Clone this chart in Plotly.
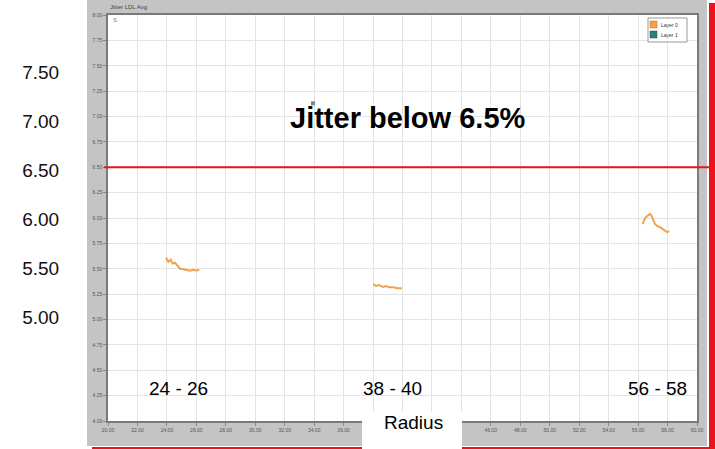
import plotly.graph_objects as go

# ---------------- data ----------------
seg1_x = [23.94, 24.10, 24.26, 24.39, 24.55, 24.71, 24.89, 25.11, 25.34, 25.57, 25.79, 26.02, 26.20]
seg1_y = [5.61, 5.57, 5.59, 5.55, 5.56, 5.53, 5.50, 5.495, 5.49, 5.48, 5.49, 5.48, 5.495]
seg2_x = [38.02, 38.20, 38.42, 38.66, 38.88, 39.10, 39.38, 39.65, 39.95]
seg2_y = [5.35, 5.33, 5.34, 5.32, 5.33, 5.317, 5.317, 5.307, 5.307]
seg3_x = [56.31, 56.47, 56.62, 56.81, 56.92, 57.03, 57.15, 57.30, 57.49, 57.67, 57.83, 57.98, 58.12]
seg3_y = [5.94, 6.00, 6.02, 6.04, 6.02, 5.98, 5.94, 5.92, 5.91, 5.89, 5.875, 5.86, 5.87]
layer1_x = [33.92]
layer1_y = [7.13]

series_names = ["Layer 0", "Layer 1"]
series_colors = ["#f2a24a", "#2f7d74"]
threshold = 6.5
threshold_label = "Jitter below 6.5%"
range_labels = ["24 - 26", "38 - 40", "56 - 58"]
outer_ticks = [5.0, 5.5, 6.0, 6.5, 7.0, 7.5]
outer_ticktext = ["5.00", "5.50", "6.00", "6.50", "7.00", "7.50"]
x_ticks = [20 + 2 * i for i in range(21)]
x_title = "Radius"
chart_title = "Jitter LDL Avg"

# ---------------- figure ----------------
W, H = 715, 449
L, R, T, B = 108, 18, 15, 28
PW, PH = W - L - R, H - T - B

def px(xp):
    return (xp - L) / PW

def py(yp):
    return (H - B - yp) / PH

layer0_x = seg1_x + [None] + seg2_x + [None] + seg3_x
layer0_y = seg1_y + [None] + seg2_y + [None] + seg3_y

fig = go.Figure()
fig.add_trace(go.Scatter(x=layer0_x, y=layer0_y, mode="lines", name=series_names[0],
                         line=dict(color=series_colors[0], width=2), connectgaps=False,
                         showlegend=False))
fig.add_trace(go.Scatter(x=layer1_x, y=layer1_y, mode="markers", name=series_names[1],
                         marker=dict(color="#6f8f8b", size=4, symbol="square"),
                         showlegend=False))
# invisible trace carrying the outer (overlay) y axis
fig.add_trace(go.Scatter(x=[None], y=[None], yaxis="y2", showlegend=False, hoverinfo="skip"))

# x tick labels hidden where the "Radius" box covers them
hidden = {38, 40, 42, 44}
x_ticktext = ["" if v in hidden else f"{v:.2f}" for v in x_ticks]

tickfont = dict(family="Arial, Liberation Sans", size=5, color="#555")
fig.update_layout(
    width=W, height=H, autosize=False,
    margin=dict(l=L, r=R, t=T, b=B, pad=0),
    paper_bgcolor="white", plot_bgcolor="white",
    font=dict(family="Arial, Liberation Sans", color="#000"),
    xaxis=dict(range=[20, 60], tickvals=x_ticks, ticktext=x_ticktext, tickfont=tickfont,
               showgrid=True, gridcolor="#e4e4e4", gridwidth=1, zeroline=False,
               showline=True, linecolor="#7a7a7a", linewidth=1.5, mirror=True,
               ticks="outside", ticklen=3, tickcolor="#888"),
    yaxis=dict(range=[4, 8], dtick=0.25, tickformat=".2f", tickfont=tickfont,
               showgrid=True, gridcolor="#e4e4e4", gridwidth=1, zeroline=False,
               showline=True, linecolor="#7a7a7a", linewidth=1.5, mirror=True,
               ticks="outside", ticklen=3, tickcolor="#888"),
    yaxis2=dict(overlaying="y", anchor="free", position=0, side="left",
                range=[3.939, 8.082], tickvals=outer_ticks, ticktext=outer_ticktext,
                tickfont=dict(family="Arial, Liberation Sans", size=19, color="#111"),
                showgrid=False, zeroline=False, showline=False,
                ticks="outside", ticklen=45, tickcolor="rgba(0,0,0,0)"),
    showlegend=False,
)

shapes = [
    # grey frame around the embedded chart
    dict(type="rect", xref="paper", yref="paper", x0=px(87), x1=px(707), y0=py(446), y1=py(0),
         fillcolor="#c4c4c4", line=dict(width=0), layer="below"),
    dict(type="rect", xref="paper", yref="paper", x0=0, x1=1, y0=0, y1=1,
         fillcolor="white", line=dict(width=0), layer="below"),
    # threshold line
    dict(type="line", xref="paper", yref="y", x0=px(104), x1=px(715), y0=threshold, y1=threshold,
         line=dict(color="#e8141a", width=2), layer="above"),
    # red right bar and bottom line
    dict(type="rect", xref="paper", yref="paper", x0=px(709), x1=px(715), y0=py(449), y1=py(3),
         fillcolor="#e8141a", line=dict(width=0), layer="above"),
    dict(type="rect", xref="paper", yref="paper", x0=px(92), x1=px(715), y0=py(449), y1=py(447),
         fillcolor="#e8141a", line=dict(width=0), layer="above"),
    # white box behind the axis title
    dict(type="rect", xref="paper", yref="paper", x0=px(362), x1=px(462), y0=py(449), y1=py(412),
         fillcolor="white", line=dict(width=0), layer="above"),
    # legend box and swatches
    dict(type="rect", xref="paper", yref="paper", x0=px(648), x1=px(687), y0=py(42), y1=py(18),
         fillcolor="white", line=dict(color="#999", width=1), layer="above"),
    dict(type="rect", xref="paper", yref="paper", x0=px(650), x1=px(657), y0=py(28), y1=py(21),
         fillcolor=series_colors[0], line=dict(color="#b07020", width=0.5), layer="above"),
    dict(type="rect", xref="paper", yref="paper", x0=px(650), x1=px(657), y0=py(38), y1=py(31),
         fillcolor=series_colors[1], line=dict(color="#1f5550", width=0.5), layer="above"),
]
fig.update_layout(shapes=shapes)

label_x = [24.8, 39.3, 57.3]
annotations = [
    dict(text=f"<b>{threshold_label}</b>", xref="paper", yref="paper", x=px(408), y=py(118),
         showarrow=False, font=dict(size=29, color="#000"), xanchor="center", yanchor="middle"),
    dict(text=x_title, xref="paper", yref="paper", x=px(413), y=py(422),
         showarrow=False, font=dict(size=19, color="#000"), xanchor="center", yanchor="middle"),
    dict(text=chart_title, xref="paper", yref="paper", x=0, y=py(7),
         showarrow=False, font=dict(size=6, color="#444"), xanchor="left", yanchor="middle"),
    dict(text="S", xref="paper", yref="paper", x=px(115), y=py(20),
         showarrow=False, font=dict(size=6, color="#777"), xanchor="center", yanchor="middle"),
    dict(text=series_names[0], xref="paper", yref="paper", x=px(659), y=py(24.5),
         showarrow=False, font=dict(size=5, color="#333"), xanchor="left", yanchor="middle"),
    dict(text=series_names[1], xref="paper", yref="paper", x=px(659), y=py(34.5),
         showarrow=False, font=dict(size=5, color="#333"), xanchor="left", yanchor="middle"),
]
for lab, lx in zip(range_labels, label_x):
    annotations.append(dict(text=lab, xref="x", yref="paper", x=lx, y=py(388),
                            showarrow=False, font=dict(size=19, color="#000"),
                            xanchor="center", yanchor="middle"))
fig.update_layout(annotations=annotations)

fig.write_html("out.html", config={"displayModeBar": False},
               post_script="document.body.style.margin='0';document.body.style.overflow='hidden';")
